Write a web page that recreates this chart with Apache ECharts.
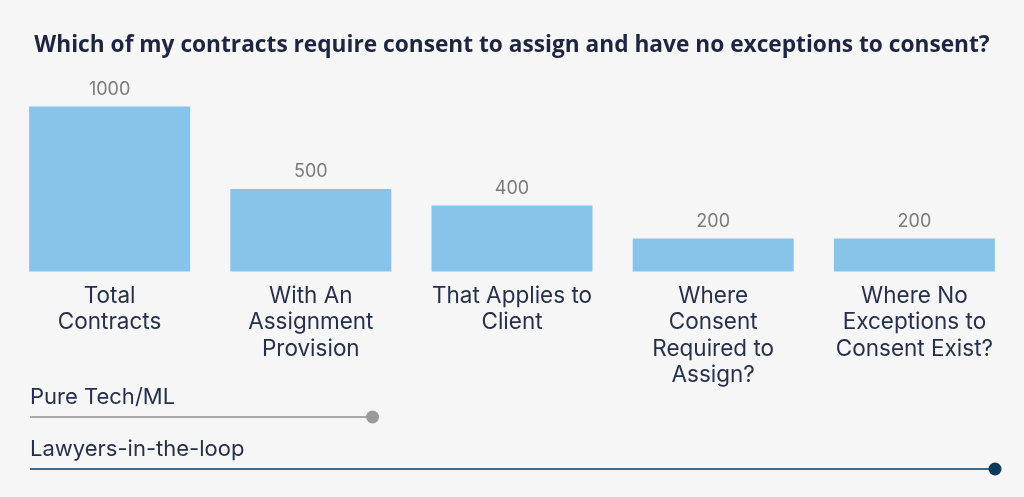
<!DOCTYPE html>
<html>
<head>
<meta charset="utf-8">
<script src="https://cdn.jsdelivr.net/npm/echarts@6/dist/echarts.min.js"></script>
<style>
html,body{margin:0;padding:0;background:#f6f6f6;}
#chart{width:1024px;height:497px;}
</style>
</head>
<body>
<div id="chart"></div>
<script>
var categories = ['Total\nContracts', 'With An\nAssignment\nProvision', 'That Applies to\nClient', 'Where\nConsent\nRequired to\nAssign?', 'Where No\nExceptions to\nConsent Exist?'];
var contractCounts = [1000, 500, 400, 200, 200];
var approaches = ['Pure Tech/ML', 'Lawyers-in-the-loop'];
var coveragePct = [35.5, 100];

var chart = echarts.init(document.getElementById('chart'));
var textColor = '#26304a';
var option = {
  backgroundColor: '#f6f6f6',
  animation: false,
  title: {
    text: 'Which of my contracts require consent to assign and have no exceptions to consent?',
    left: 'center',
    top: 29,
    textStyle: {fontFamily: 'Open Sans', fontWeight: 'bold', fontSize: 22.7, color: '#1e2540'}
  },
  grid: [
    {left: 9, right: 9, top: 106.5, height: 165, containLabel: false},
    {left: 30, right: 29, top: 417, height: 52, containLabel: false}
  ],
  xAxis: [
    {
      type: 'category', gridIndex: 0, data: categories,
      axisLine: {show: false}, axisTick: {show: false},
      axisLabel: {interval: 0, margin: 11, fontFamily: 'Inter', fontSize: 22.5, lineHeight: 26.5, color: textColor}
    },
    {type: 'value', gridIndex: 1, min: 0, max: 100, show: false}
  ],
  yAxis: [
    {type: 'value', gridIndex: 0, min: 0, max: 1000, show: false},
    {
      type: 'category', gridIndex: 1, data: approaches, inverse: true, boundaryGap: false,
      axisLine: {show: false}, axisTick: {show: false}, splitLine: {show: false},
      axisLabel: {inside: true, margin: 0, align: 'left', verticalAlign: 'bottom', padding: [0, 0, 8, 0],
        fontFamily: 'Inter', fontSize: 22, lineHeight: 24, color: textColor}
    }
  ],
  series: [
    {
      type: 'bar', xAxisIndex: 0, yAxisIndex: 0, data: contractCounts,
      barCategoryGap: '20%',
      itemStyle: {color: '#88c4ea'},
      label: {show: true, position: 'top', distance: 8, fontFamily: 'Inter', fontSize: 18, color: '#7b7b7b'}
    },
    {
      type: 'line', xAxisIndex: 1, yAxisIndex: 1,
      data: [{value: [0, 0], symbol: 'none'}, {value: [coveragePct[0], 0]}],
      symbol: 'circle', symbolSize: 13,
      lineStyle: {color: '#a9a9a9', width: 2},
      itemStyle: {color: '#9a9a9a'}
    },
    {
      type: 'line', xAxisIndex: 1, yAxisIndex: 1,
      data: [{value: [0, 1], symbol: 'none'}, {value: [coveragePct[1], 1]}],
      symbol: 'circle', symbolSize: 13,
      lineStyle: {color: '#3a6c89', width: 2},
      itemStyle: {color: '#0c3b5a'}
    }
  ]
};
chart.setOption(option);
</script>
</body>
</html>
